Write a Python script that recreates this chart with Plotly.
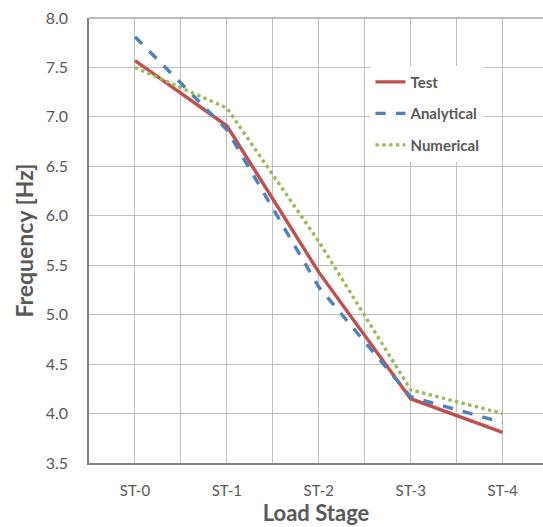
import plotly.graph_objects as go

# Natural frequency per load stage
stages = ["ST-0", "ST-1", "ST-2", "ST-3", "ST-4"]
test = [7.57, 6.91, 5.43, 4.15, 3.81]
analytical = [7.81, 6.87, 5.28, 4.17, 3.91]
numerical = [7.50, 7.09, 5.74, 4.24, 4.00]

x = list(range(len(stages)))
grey = "#595959"
grid = "#BFBFBF"
font = "Lato"

fig = go.Figure()
fig.add_trace(go.Scatter(x=x, y=test, name="Test", mode="lines", legendgroup="t",
                         line=dict(color="#C0504D", width=3.4)))
fig.add_trace(go.Scatter(x=x, y=analytical, name="Analytical", mode="lines", legendgroup="a",
                         line=dict(color="#4F81BD", width=3.4, dash="dash")))
fig.add_trace(go.Scatter(x=x, y=numerical, name="Numerical", mode="lines", legendgroup="n",
                         line=dict(color="#9BBB59", width=3.4, dash="dot")))

fig.update_layout(
    width=543, height=527,
    margin=dict(l=89, r=0, t=18, b=64),
    plot_bgcolor="white", paper_bgcolor="white",
    font=dict(family=font, color=grey),
    showlegend=True,
    legend=dict(x=0.62, y=0.893, xanchor="left", yanchor="top",
                bgcolor="white", borderwidth=0,
                font=dict(size=15, color=grey, family=font, weight="bold"),
                itemwidth=30, tracegroupgap=9),
    xaxis=dict(
        range=[-0.5, 4.44], tickvals=x, ticktext=stages,
        showgrid=True, gridcolor=grid, gridwidth=1,
        minor=dict(tickvals=[-0.5, 0.5, 1.5, 2.5, 3.5], showgrid=True,
                   gridcolor=grid, gridwidth=1),
        showline=True, linecolor="#808080", linewidth=1.5,
        ticks="", ticklabelstandoff=13,
        tickfont=dict(size=15, color=grey, family=font),
        title=dict(text="Load Stage", standoff=5,
                   font=dict(size=22, color=grey, family=font, weight="bold")),
        zeroline=False,
    ),
    yaxis=dict(
        range=[3.5, 8.0], dtick=0.5, tickformat=".1f",
        showgrid=True, gridcolor=grid, gridwidth=1,
        showline=True, linecolor="#808080", linewidth=1.5,
        ticks="", ticklabelstandoff=16,
        tickfont=dict(size=16, color=grey, family=font),
        title=dict(text="Frequency [Hz]", standoff=6,
                   font=dict(size=23, color=grey, family=font, weight="bold")),
        zeroline=False,
    ),
)
# top border line of plot area
fig.add_shape(type="line", xref="paper", yref="paper", x0=0, x1=1, y0=1, y1=1,
              line=dict(color="#A6A6A6", width=1.5))

fig.write_html("out.html")
